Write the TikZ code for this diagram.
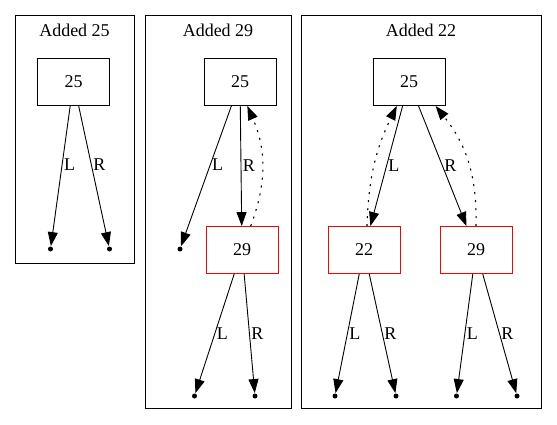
\documentclass[tikz,border=0pt]{standalone}
\usepackage{fontspec}
\setmainfont{Liberation Serif}
\usetikzlibrary{arrows.meta}

\begin{document}
\begin{tikzpicture}[x=1pt, y=-1pt, >={Triangle[length=14pt,width=10pt]},
    font=\fontsize{18}{20}\selectfont, line width=0.9pt,
    keybox/.style={draw, minimum width=72pt, minimum height=47pt, inner sep=0pt},
    newkey/.style={keybox, draw=red},
    nilpt/.style={circle, fill, inner sep=0pt, minimum size=5pt},
    lbl/.style={anchor=west, inner sep=1.5pt},
    child/.style={->},
    parent/.style={->, line width=1.1pt, dash pattern=on 2pt off 6pt}]

    \useasboundingbox (0,0) rectangle (557,425);

    % --- grupos ---
    \draw (15,15) rectangle (134,263);
    \draw (145,15) rectangle (291,408);
    \draw (301,15) rectangle (541,408);

    \node (t1) at (74.5,30) {Added 25};
    \node (t2) at (218,30) {Added 29};
    \node (t3) at (421,30) {Added 22};

    % --- paso 1 ---
    \node[keybox] (c1root) at (73.5,82) {25};
    \node[nilpt] (c1nl) at (50.5,249) {};
    \node[nilpt] (c1nr) at (109.5,249) {};

    \draw[child] (c1root) -- node[lbl, pos=0.42] {L} (c1nl);
    \draw[child] (c1root) -- node[lbl, pos=0.42] {R} (c1nr);

    % --- paso 2 ---
    \node[keybox] (c2root) at (240,82) {25};
    \node[newkey] (c2r) at (242,250) {29};
    \node[nilpt] (c2nl) at (180,249) {};
    \node[nilpt] (c2rnl) at (194.5,396) {};
    \node[nilpt] (c2rnr) at (255,396) {};

    \draw[child] (c2root) -- node[lbl, pos=0.42] {L} (c2nl);
    \draw[child] (c2root) -- node[lbl, pos=0.5] {R} (c2r);
    \draw[child] (c2r) -- node[lbl, pos=0.5] {L} (c2rnl);
    \draw[child] (c2r) -- node[lbl, pos=0.5] {R} (c2rnr);
    \draw[parent] (c2r.70) to[bend right=22] (c2root.-73);

    % --- paso 3 ---
    \node[keybox] (c3root) at (409,82) {25};
    \node[newkey] (c3l) at (364,250) {22};
    \node[newkey] (c3r) at (476,250) {29};
    \node[nilpt] (c3lnl) at (335,396) {};
    \node[nilpt] (c3lnr) at (396,396) {};
    \node[nilpt] (c3rnl) at (456.5,396) {};
    \node[nilpt] (c3rnr) at (517,396) {};

    \draw[child] (c3root) -- node[lbl, pos=0.5] {L} (c3l);
    \draw[child] (c3root) -- node[lbl, pos=0.5] {R} (c3r);
    \draw[child] (c3l) -- node[lbl, pos=0.5] {L} (c3lnl);
    \draw[child] (c3l) -- node[lbl, pos=0.5] {R} (c3lnr);
    \draw[child] (c3r) -- node[lbl, pos=0.5] {L} (c3rnl);
    \draw[child] (c3r) -- node[lbl, pos=0.5] {R} (c3rnr);
    \draw[parent] (c3l.83) to[bend left=12] (c3root.-117);
    \draw[parent] (c3r.north) to[bend right=20] (c3root.-42);

\end{tikzpicture}
\end{document}
